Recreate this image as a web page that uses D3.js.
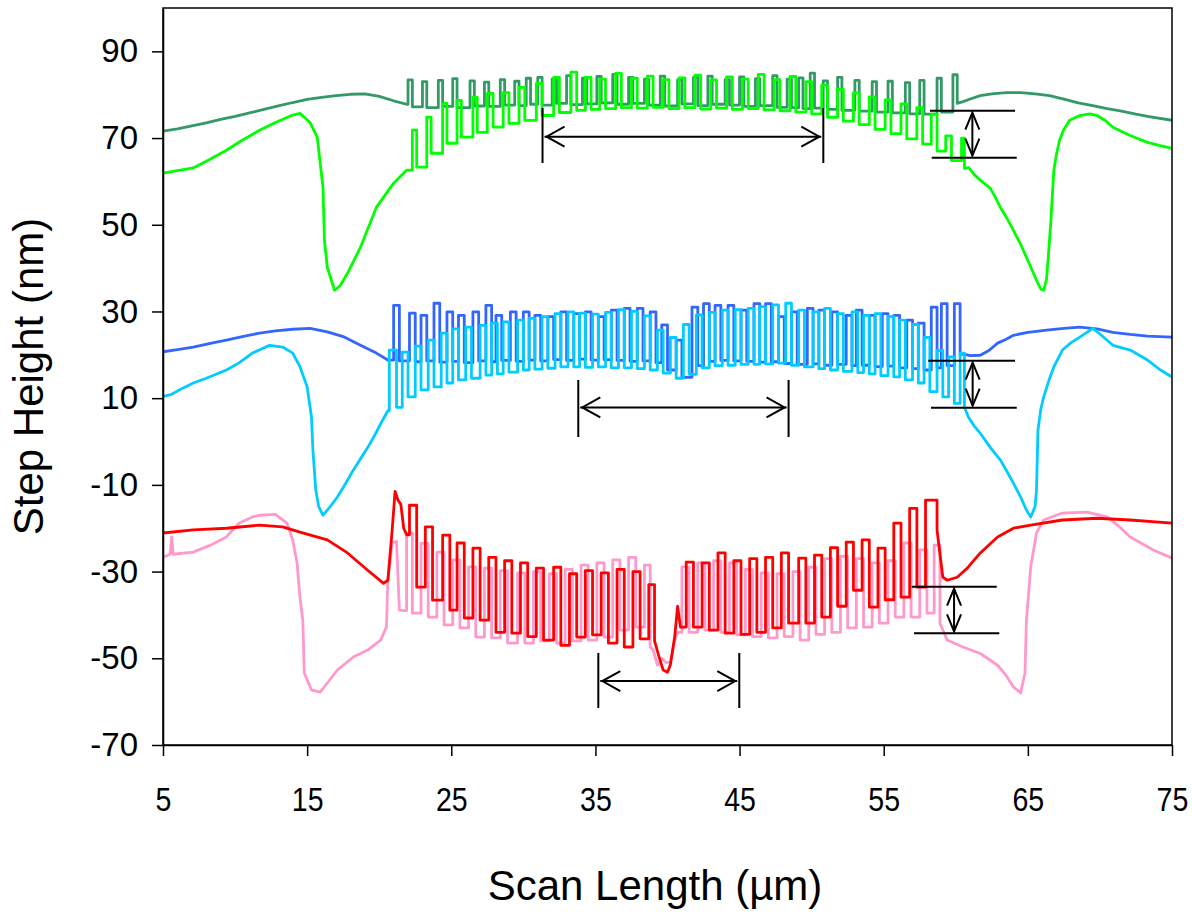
<!DOCTYPE html>
<html>
<head>
<meta charset="utf-8">
<script src="https://cdn.jsdelivr.net/npm/d3@7"></script>
<style>
  body { margin: 0; background: #fff; }
  text { font-family: "Liberation Sans", Arial, sans-serif; fill: #000; }
</style>
</head>
<body>
<div id="chart"></div>
<script>
// axis ticks
const xTicks = [5, 15, 25, 35, 45, 55, 65, 75];
const xTickLabels = ["5", "15", "25", "35", "45", "55", "65", "75"];
const yTicks = [-70, -50, -30, -10, 10, 30, 50, 70, 90];
const yTickLabels = ["-70", "-50", "-30", "-10", "10", "30", "50", "70", "90"];

// dark green trace: [x, y] lead-in, [xRise, xFall, top, bottom] grating, [x, y] tail
const dkGreenLead = [[5, 71.6], [6, 72.1], [7, 72.8], [8, 73.5], [9, 74.3], [10, 75.0], [11, 75.8], [12, 76.6],
  [13, 77.4], [14, 78.2], [15, 78.9], [16, 79.4], [17, 79.8], [18, 80.1], [19, 80.2], [20, 79.6], [21, 78.6], [21.9, 77.8]];
const dkGreenWave = [[22.0, 22.3, 83.4, 77.2], [23.0, 23.3, 83.0, 77.0], [24.1, 24.4, 83.3, 77.3], [25.1, 25.4, 83.7, 77.0],
  [26.3, 26.6, 83.2, 77.4], [27.3, 27.6, 82.9, 77.3], [28.4, 28.7, 83.5, 77.6], [29.4, 29.7, 83.1, 77.5],
  [30.2, 30.5, 83.8, 77.8], [31.0, 31.3, 84.0, 77.6], [32.0, 32.3, 83.6, 78.0], [33.0, 33.3, 84.4, 77.7],
  [34.1, 34.4, 83.8, 77.9], [35.1, 35.4, 84.2, 78.1], [36.2, 36.5, 84.7, 77.8], [37.3, 37.6, 84.0, 78.0],
  [38.4, 38.7, 83.6, 77.6], [39.5, 39.8, 84.3, 77.4], [40.7, 41.0, 83.4, 77.9], [41.8, 42.1, 84.0, 77.5],
  [42.8, 43.1, 84.3, 77.8], [44.0, 44.3, 83.5, 77.6], [45.0, 45.3, 84.1, 77.3], [46.1, 46.4, 83.7, 77.5],
  [47.3, 47.6, 84.4, 77.1], [48.3, 48.6, 83.6, 77.0], [49.1, 49.4, 83.9, 76.8], [49.9, 50.2, 85.0, 76.9],
  [50.8, 51.1, 83.2, 76.6], [51.8, 52.1, 84.0, 76.4], [53.0, 53.3, 83.3, 76.2], [54.2, 54.5, 83.0, 76.0],
  [55.3, 55.6, 83.1, 75.8], [56.5, 56.8, 82.8, 75.6], [57.5, 57.8, 83.3, 75.5], [58.7, 59.0, 83.8, 76.0],
  [59.8, 60.1, 84.6, 78.0]];
const dkGreenTail = [[60.5, 78.4], [61.0, 79.0], [61.7, 79.8], [62.5, 80.2], [63.5, 80.5], [64.5, 80.5], [65.5, 80.2],
  [66.5, 79.8], [67.5, 79.0], [68.5, 78.1], [69.5, 77.5], [70.5, 76.8], [71.5, 76.2], [72.5, 75.5], [73.5, 74.9], [75.0, 74.1]];

// bright green trace
const ltGreenLead = [[5, 61.9], [6, 62.5], [7.1, 63.1], [8.2, 65.0], [9.4, 67.2], [10.5, 69.5], [11.7, 71.8], [12.8, 73.6],
  [14.0, 75.3], [14.5, 75.7], [15.2, 73.6], [15.7, 70.2], [16.1, 58.6], [16.2, 46.4], [16.4, 40.2], [16.9, 34.9],
  [17.3, 36.0], [17.8, 38.8], [18.7, 44.8], [19.8, 54.0], [21.0, 59.6], [21.9, 62.6]];
const ltGreenWave = [[22.3, 22.6, 71.8, 63.3], [23.3, 23.6, 74.8, 66.5], [24.4, 24.7, 78.0, 68.8], [25.4, 25.7, 78.7, 70.2],
  [26.5, 26.8, 79.4, 71.3], [27.5, 27.9, 80.3, 72.5], [28.6, 29.0, 80.5, 73.4], [29.7, 30.1, 81.7, 74.1],
  [30.9, 31.3, 82.6, 75.2], [32.1, 32.5, 84.0, 75.9], [33.3, 33.7, 85.2, 76.4], [34.3, 34.7, 84.0, 76.6],
  [35.3, 35.7, 83.6, 76.8], [36.4, 36.8, 84.9, 77.0], [37.5, 37.9, 83.8, 76.9], [38.6, 39.0, 84.3, 77.1],
  [39.7, 40.1, 83.5, 76.8], [40.8, 41.2, 83.9, 77.0], [41.9, 42.3, 84.5, 76.7], [43.0, 43.4, 83.4, 76.9],
  [44.1, 44.5, 84.1, 76.6], [45.2, 45.6, 83.6, 76.8], [46.3, 46.7, 84.7, 76.5], [47.4, 47.8, 83.5, 76.3],
  [48.5, 48.9, 84.2, 76.0], [49.6, 50.0, 83.0, 75.6], [50.7, 51.1, 82.2, 74.8], [51.8, 52.2, 81.3, 73.9],
  [52.9, 53.3, 80.4, 73.1], [54.0, 54.4, 79.5, 72.0], [55.1, 55.5, 78.8, 71.0], [56.2, 56.6, 77.9, 69.8],
  [57.3, 57.7, 77.0, 68.6], [58.3, 58.7, 75.5, 67.0], [59.3, 59.7, 70.5, 64.8], [60.4, 60.6, 70.0, 63.0]];
const ltGreenTail = [[60.9, 63.2], [61.3, 61.5], [61.7, 60.3], [62.4, 58.4], [62.8, 56.0], [63.1, 54.0], [63.6, 51.2],
  [64.0, 48.7], [64.5, 45.5], [64.9, 42.5], [65.3, 39.5], [65.6, 37.2], [65.9, 35.2], [66.1, 34.9], [66.3, 37.5],
  [66.4, 41.8], [66.6, 51.0], [66.8, 62.6], [67.0, 66.5], [67.2, 69.5], [67.5, 72.0], [67.9, 74.1], [68.6, 75.2],
  [69.3, 75.6], [69.8, 75.2], [70.4, 74.0], [70.9, 72.5], [71.5, 71.5], [72.1, 70.6], [72.7, 69.8], [73.3, 69.0],
  [74.1, 68.3], [75.0, 67.6]];

// royal blue trace
const blueLead = [[5, 20.7], [6, 21.2], [7.1, 21.8], [8.2, 22.6], [9.4, 23.4], [10.5, 24.2], [11.7, 25.0], [12.8, 25.5],
  [14.0, 25.9], [15.2, 26.1], [16.4, 25.3], [17.5, 24.2], [18.7, 22.2], [19.8, 20.4], [20.6, 18.8]];
const blueWave = [[21.0, 21.4, 31.4, 18.6], [22.1, 22.5, 29.6, 18.4], [22.9, 23.3, 29.1, 18.6], [23.8, 24.2, 31.9, 18.3],
  [24.7, 25.1, 29.9, 18.5], [25.5, 25.9, 29.1, 18.2], [26.5, 26.9, 29.9, 18.6], [27.4, 27.8, 31.4, 18.4],
  [28.1, 28.5, 29.1, 18.7], [29.1, 29.5, 29.9, 18.5], [30.0, 30.4, 29.9, 18.8], [30.8, 31.2, 29.1, 18.6],
  [31.7, 32.1, 28.8, 18.9], [32.6, 33.0, 29.9, 18.7], [33.5, 33.9, 29.5, 19.0], [34.3, 34.7, 29.9, 18.8],
  [35.2, 35.6, 28.8, 18.9], [36.1, 36.5, 30.3, 18.7], [37.0, 37.4, 30.7, 18.5], [37.9, 38.3, 30.7, 18.6],
  [38.8, 39.2, 29.9, 18.2], [39.6, 40.0, 26.9, 16.5], [40.6, 41.0, 23.4, 14.8], [41.7, 42.1, 31.0, 17.5],
  [42.5, 42.9, 31.8, 18.5], [43.3, 43.7, 31.4, 18.7], [44.2, 44.6, 31.4, 18.6], [45.1, 45.5, 30.3, 18.5],
  [46.0, 46.4, 31.8, 18.3], [46.8, 47.2, 31.8, 18.4], [47.7, 48.1, 28.8, 18.0], [48.6, 49.0, 29.9, 17.8],
  [49.7, 50.1, 30.7, 17.9], [50.5, 50.9, 30.3, 17.6], [51.4, 51.8, 29.9, 17.8], [52.4, 52.8, 29.1, 17.5],
  [53.1, 53.5, 30.3, 17.6], [54.0, 54.4, 29.1, 17.3], [54.9, 55.3, 29.5, 17.4], [55.7, 56.1, 29.1, 17.0],
  [56.6, 57.0, 28.0, 16.8], [57.4, 57.8, 27.3, 16.5], [58.3, 58.7, 31.0, 17.0], [59.0, 59.4, 31.8, 17.5],
  [59.9, 60.3, 31.8, 20.0]];
const blueTail = [[60.5, 20.2], [61.0, 19.8], [61.7, 19.9], [62.3, 21.0], [62.9, 22.7], [63.5, 23.6], [64.0, 24.5],
  [65.0, 25.2], [66.3, 25.7], [67.5, 26.1], [68.6, 26.4], [69.8, 26.0], [70.9, 25.2], [72.1, 24.7], [73.3, 24.3], [75.0, 24.1]];

// cyan trace
const cyanLead = [[5, 10.4], [5.6, 10.9], [6.3, 12.2], [7.1, 13.5], [8.0, 14.6], [9.4, 16.5], [10.3, 18.2], [11.2, 20.4],
  [12.4, 22.2], [13.3, 21.8], [14.0, 20.4], [14.5, 17.3], [15.0, 12.6], [15.3, 5.7], [15.4, -2.0], [15.6, -11.2],
  [15.8, -15.0], [16.1, -17.0], [16.6, -15.0], [17.1, -12.8], [17.7, -9.5], [18.2, -6.6], [18.7, -4.0], [19.2, -1.4],
  [19.7, 1.5], [20.1, 4.1], [20.6, 7.1]];
const cyanWave = [[20.7, 21.2, 21.1, 7.9], [21.6, 22.0, 20.6, 10.3], [22.5, 22.9, 22.0, 11.9], [23.4, 23.8, 23.4, 12.6],
  [24.3, 24.7, 25.0, 13.5], [25.1, 25.5, 26.0, 14.2], [26.0, 26.4, 26.4, 14.6], [27.0, 27.4, 26.8, 15.3],
  [27.8, 28.2, 27.3, 15.6], [28.6, 29.0, 27.6, 16.0], [29.6, 30.0, 28.0, 16.5], [30.4, 30.8, 28.4, 16.7],
  [31.3, 31.7, 28.8, 16.9], [32.2, 32.6, 29.5, 17.2], [33.1, 33.5, 29.9, 17.2], [33.9, 34.3, 29.6, 17.1],
  [34.8, 35.2, 29.4, 17.2], [35.7, 36.1, 29.8, 17.0], [36.6, 37.0, 30.4, 17.0], [37.5, 37.9, 30.0, 16.8],
  [38.4, 38.8, 29.0, 16.5], [39.3, 39.7, 25.7, 15.8], [40.2, 40.6, 24.0, 14.6], [41.1, 41.5, 27.0, 15.5],
  [42.0, 42.4, 29.2, 17.0], [42.9, 43.3, 29.8, 17.5], [43.8, 44.2, 30.3, 17.6], [44.7, 45.1, 30.4, 17.8],
  [45.6, 46.0, 30.7, 17.8], [46.4, 46.8, 31.1, 17.9], [47.3, 47.7, 31.5, 18.1], [48.2, 48.6, 31.9, 17.6],
  [49.1, 49.5, 30.3, 17.2], [50.1, 50.5, 29.9, 16.8], [50.9, 51.3, 30.7, 16.5], [51.8, 52.2, 29.5, 16.2],
  [52.8, 53.2, 29.9, 15.9], [53.6, 54.0, 29.1, 15.6], [54.4, 54.8, 29.5, 15.2], [55.3, 55.7, 28.8, 14.9],
  [56.1, 56.5, 28.0, 14.2], [57.0, 57.4, 27.0, 13.5], [57.8, 58.2, 24.0, 11.5], [58.7, 59.1, 21.0, 10.3],
  [59.5, 59.9, 19.5, 8.8], [60.3, 60.6, 20.4, 7.9]];
const cyanTail = [[60.9, 5.5], [61.3, 3.5], [61.7, 1.9], [62.4, -1.4], [63.1, -4.3], [63.6, -7.2], [64.0, -9.6],
  [64.5, -12.8], [64.9, -15.8], [65.2, -17.4], [65.5, -15.0], [65.6, -11.2], [65.7, 2.6], [65.9, 7.5], [66.1, 10.3],
  [66.5, 14.5], [66.8, 17.2], [67.4, 21.1], [68.0, 22.8], [68.6, 24.1], [69.2, 25.4], [69.5, 26.1], [70.0, 24.8],
  [70.9, 22.2], [72.1, 21.1], [73.3, 18.8], [74.2, 16.5], [75.0, 14.9]];

// red trace
const redLead = [[5, -21.1], [7.1, -20.4], [9.4, -20.0], [11.7, -19.3], [13.3, -19.7], [14.5, -20.9], [16.4, -22.7],
  [17.8, -25.7], [19.2, -29.7], [20.3, -32.7], [20.6, -32.0], [20.9, -20.4], [21.1, -11.5], [21.3, -13.5],
  [21.5, -14.5], [21.7, -20.0], [21.9, -21.5]];
const redWaveA = [[22.1, 22.6, -14.7, -33.6], [23.2, 23.7, -19.7, -36.6], [24.4, 24.9, -21.6, -38.9],
  [25.4, 25.9, -23.4, -40.7], [26.5, 27.0, -24.6, -41.2], [27.6, 28.1, -26.7, -44.0], [28.7, 29.2, -27.5, -44.2],
  [29.8, 30.3, -28.0, -45.0], [30.9, 31.4, -29.2, -45.8], [32.1, 32.6, -29.0, -47.0], [33.2, 33.7, -30.5, -45.1],
  [34.3, 34.8, -29.8, -44.6], [35.4, 35.9, -30.3, -46.5], [36.5, 37.0, -29.5, -47.4], [37.6, 38.1, -30.0, -45.5],
  [38.7, 39.1, -33.0, -46.0]];
const redDip = [[39.4, -49.5], [39.7, -52.7], [40.0, -53.2], [40.2, -51.5], [40.5, -45.0], [40.7, -38.0], [40.9, -42.8]];
const redWaveB = [[41.3, 41.8, -27.8, -42.8], [42.4, 42.9, -28.0, -43.5], [43.5, 44.0, -25.7, -44.2],
  [44.6, 45.1, -27.5, -44.5], [45.7, 46.2, -27.0, -44.0], [46.8, 47.3, -26.7, -43.0], [47.9, 48.4, -25.7, -41.9],
  [49.1, 49.6, -26.9, -41.9], [50.2, 50.7, -26.2, -40.5], [51.3, 51.8, -24.5, -38.0], [52.4, 52.9, -23.2, -34.3],
  [53.5, 54.0, -22.7, -38.2], [54.6, 55.1, -24.6, -36.5], [55.7, 56.2, -18.8, -35.9], [56.8, 57.3, -15.4, -33.6],
  [57.9, 58.7, -13.5, -20.4]];
const redTail = [[59.1, -31.3], [59.4, -32.0], [60.1, -31.3], [60.8, -29.2], [61.7, -25.7], [62.9, -22.0], [64.0, -20.0],
  [65.2, -19.3], [67.4, -18.1], [69.8, -17.7], [72.1, -18.1], [75.0, -18.8]];

// pink trace
const pinkLead = [[5, -26.7], [5.5, -26.0], [5.6, -22.0], [5.7, -26.0], [7.1, -25.5], [8.3, -23.9], [9.4, -22.0],
  [10.3, -18.8], [11.2, -17.4], [11.7, -17.0], [12.8, -16.8], [13.6, -18.8], [14.0, -22.7], [14.3, -28.0],
  [14.5, -35.9], [14.7, -41.2], [14.8, -53.4], [15.3, -57.3], [15.9, -57.8], [16.4, -55.7], [17.1, -52.7],
  [18.2, -49.7], [19.2, -48.1], [20.1, -45.8], [20.5, -42.8], [20.6, -32.0], [20.9, -23.4], [21.2, -23.0],
  [21.4, -38.9], [21.7, -39.0]];
const pinkWaveA = [[21.9, 22.3, -21.1, -39.6], [22.9, 23.4, -23.5, -40.5], [24.0, 24.5, -25.5, -42.3],
  [25.1, 25.6, -27.3, -43.0], [26.2, 26.7, -28.9, -45.1], [27.3, 27.8, -29.2, -45.3], [28.4, 28.9, -29.8, -46.5],
  [29.6, 30.1, -30.3, -46.5], [30.7, 31.2, -30.0, -46.0], [31.8, 32.3, -30.5, -46.5], [32.9, 33.4, -29.5, -46.0],
  [34.0, 34.5, -28.5, -45.8], [35.1, 35.6, -28.0, -45.1], [36.2, 36.7, -27.3, -43.5], [37.3, 37.8, -26.7, -42.8],
  [38.4, 38.8, -28.5, -47.4]];
const pinkDip = [[39.0, -48.0], [39.3, -51.6], [39.6, -50.0], [39.9, -51.0], [40.2, -50.9], [40.5, -46.0], [40.7, -44.0]];
const pinkWaveB = [[41.0, 41.5, -28.9, -44.0], [42.1, 42.6, -28.0, -43.5], [43.2, 43.7, -27.5, -44.0],
  [44.3, 44.8, -28.0, -44.6], [45.4, 45.9, -29.5, -45.0], [46.5, 47.0, -30.3, -45.3], [47.6, 48.1, -30.5, -45.0],
  [48.7, 49.2, -30.0, -45.8], [49.8, 50.3, -29.0, -44.5], [50.9, 51.4, -27.0, -44.0], [52.0, 52.5, -26.5, -43.0],
  [53.1, 53.6, -27.0, -42.8], [54.2, 54.7, -28.0, -41.9], [55.3, 55.8, -27.5, -40.5], [56.4, 56.9, -23.4, -40.5],
  [57.5, 58.0, -25.0, -39.6], [58.5, 58.9, -23.9, -41.9]];
const pinkTail = [[59.4, -45.8], [60.5, -47.4], [61.7, -48.9], [62.9, -51.6], [63.5, -54.0], [64.0, -56.6], [64.5, -58.0],
  [64.8, -53.4], [64.9, -41.2], [65.2, -28.9], [65.6, -21.1], [66.1, -18.1], [67.4, -16.5], [69.1, -16.3],
  [70.5, -17.4], [71.3, -19.5], [72.1, -22.0], [73.7, -25.0], [75.0, -26.9]];

// measurement marks
// horizontal spans: [xLeft, xRight, yArrow, yBarTop, yBarBottom]
const spanMarks = [[31.33, 50.81, 70.31, 76.93, 64.25], [33.81, 48.40, 7.85, 14.19, 1.04], [35.20, 44.98, -55.24, -48.78, -61.47]];
// step marks: [xUpperLeft, xUpperRight, yUpper, xLowerLeft, xLowerRight, yLower, xArrow]
const stepMarks = [[58.21, 64.11, 76.31, 58.33, 64.23, 65.47, 61.15],
  [58.09, 64.11, 18.65, 58.28, 64.23, 7.80, 61.17],
  [56.94, 62.84, -33.49, 57.10, 63.02, -44.23, 59.88]];

class StepProfileChart {
  constructor(_config) {
    this.config = {
      parentElement: _config.parentElement,
      containerWidth: _config.containerWidth || 1192,
      containerHeight: _config.containerHeight || 915,
      margin: _config.margin || {top: 8, right: 20, bottom: 170, left: 163}
    };
    this.initVis();
  }

  initVis() {
    let vis = this;
    vis.width = vis.config.containerWidth - vis.config.margin.left - vis.config.margin.right;
    vis.height = vis.config.containerHeight - vis.config.margin.top - vis.config.margin.bottom;

    vis.svg = d3.select(vis.config.parentElement).append('svg')
      .attr('width', vis.config.containerWidth)
      .attr('height', vis.config.containerHeight);

    vis.chart = vis.svg.append('g')
      .attr('transform', `translate(${vis.config.margin.left},${vis.config.margin.top})`);

    vis.x = d3.scaleLinear().domain([5, 75]).range([0, vis.width]);
    vis.y = d3.scaleLinear().domain([-70, 100]).range([vis.height, 0]);

    vis.svg.append('defs').append('clipPath').attr('id', 'plotClip')
      .append('rect').attr('width', vis.width).attr('height', vis.height);

    vis.line = d3.line().x(d => vis.x(d[0])).y(d => vis.y(d[1]));
  }

  // turn grating rows into vertical-edged points
  grating(rows, startY) {
    let pts = [];
    let prev = startY;
    rows.forEach(r => {
      pts.push([r[0], prev], [r[0], r[2]], [r[1], r[2]], [r[1], r[3]]);
      prev = r[3];
    });
    return pts;
  }

  trace(parts) {
    let pts = [];
    parts.forEach(p => {
      if (p.wave) pts = pts.concat(this.grating(p.wave, pts[pts.length - 1][1]));
      else pts = pts.concat(p);
    });
    return pts;
  }

  renderVis() {
    let vis = this;

    const series = [
      {color: '#339966', pts: vis.trace([dkGreenLead, {wave: dkGreenWave}, dkGreenTail])},
      {color: '#00ff00', pts: vis.trace([ltGreenLead, {wave: ltGreenWave}, ltGreenTail])},
      {color: '#3366ff', pts: vis.trace([blueLead, {wave: blueWave}, blueTail])},
      {color: '#00ccff', pts: vis.trace([cyanLead, {wave: cyanWave}, cyanTail])},
      {color: '#ff99cc', pts: vis.trace([pinkLead, {wave: pinkWaveA}, pinkDip, {wave: pinkWaveB}, pinkTail])},
      {color: '#ff0000', pts: vis.trace([redLead, {wave: redWaveA}, redDip, {wave: redWaveB}, redTail])}
    ];

    vis.chart.append('g').attr('clip-path', 'url(#plotClip)')
      .selectAll('path')
      .data(series)
      .enter()
      .append('path')
      .attr('d', d => vis.line(d.pts))
      .attr('fill', 'none')
      .attr('stroke', d => d.color)
      .attr('stroke-width', 2.8)
      .attr('stroke-linejoin', 'round');

    // plot frame
    vis.chart.append('rect')
      .attr('width', vis.width).attr('height', vis.height)
      .attr('fill', 'none').attr('stroke', '#000').attr('stroke-width', 1.5);

    // axes
    const yAxis = vis.chart.append('g')
      .call(d3.axisLeft(vis.y).tickValues(yTicks).tickSize(11).tickSizeOuter(0).tickPadding(14)
        .tickFormat((d, i) => yTickLabels[i]));
    yAxis.selectAll('text').attr('font-size', 33).attr('font-family', '"Liberation Sans", Arial, sans-serif');

    const xAxis = vis.chart.append('g')
      .attr('transform', `translate(0,${vis.height})`)
      .call(d3.axisBottom(vis.x).tickValues(xTicks).tickSize(11).tickSizeOuter(0).tickPadding(0)
        .tickFormat((d, i) => xTickLabels[i]));
    // narrow, tall tick digits as in the original
    xAxis.selectAll('.tick text')
      .attr('y', 0).attr('dy', null)
      .attr('transform', 'translate(0,66) scale(0.84,1)')
      .attr('font-size', 34)
      .attr('font-family', '"Liberation Sans", Arial, sans-serif');

    [yAxis, xAxis].forEach(a => {
      a.selectAll('line').attr('stroke', '#000').attr('stroke-width', 1.5);
      a.select('.domain').attr('stroke', '#000').attr('stroke-width', 1.5);
    });

    // axis titles
    vis.svg.append('text')
      .attr('transform', `translate(43,${vis.config.margin.top + vis.height / 2}) rotate(-90)`)
      .attr('text-anchor', 'middle')
      .attr('font-size', 42)
      .text('Step Height (nm)');

    vis.svg.append('text')
      .attr('x', 655).attr('y', 900)
      .attr('text-anchor', 'middle')
      .attr('font-size', 42)
      .text('Scan Length (\u00b5m)');

    // measurement annotations
    const marks = vis.chart.append('g').attr('stroke', '#000').attr('stroke-width', 2).attr('fill', 'none');

    spanMarks.forEach(s => {
      const x1 = vis.x(s[0]), x2 = vis.x(s[1]), ya = vis.y(s[2]), yt = vis.y(s[3]), yb = vis.y(s[4]);
      marks.append('line').attr('x1', x1).attr('x2', x1).attr('y1', yt).attr('y2', yb);
      marks.append('line').attr('x1', x2).attr('x2', x2).attr('y1', yt).attr('y2', yb);
      marks.append('line').attr('x1', x1 + 2).attr('x2', x2 - 2).attr('y1', ya).attr('y2', ya);
      marks.append('path').attr('d', `M${x1 + 22},${ya - 10}L${x1 + 4},${ya}L${x1 + 22},${ya + 10}`);
      marks.append('path').attr('d', `M${x2 - 22},${ya - 10}L${x2 - 4},${ya}L${x2 - 22},${ya + 10}`);
    });

    stepMarks.forEach(s => {
      const yu = vis.y(s[2]), yl = vis.y(s[5]), xa = vis.x(s[6]);
      marks.append('line').attr('x1', vis.x(s[0])).attr('x2', vis.x(s[1])).attr('y1', yu).attr('y2', yu);
      marks.append('line').attr('x1', vis.x(s[3])).attr('x2', vis.x(s[4])).attr('y1', yl).attr('y2', yl);
      marks.append('line').attr('x1', xa).attr('x2', xa).attr('y1', yu + 2).attr('y2', yl - 2);
      marks.append('path').attr('d', `M${xa - 7},${yu + 19}L${xa},${yu + 2}L${xa + 7},${yu + 19}`);
      marks.append('path').attr('d', `M${xa - 7},${yl - 19}L${xa},${yl - 2}L${xa + 7},${yl - 19}`);
    });
  }
}

const chart = new StepProfileChart({parentElement: '#chart'});
chart.renderVis();
</script>
</body>
</html>
